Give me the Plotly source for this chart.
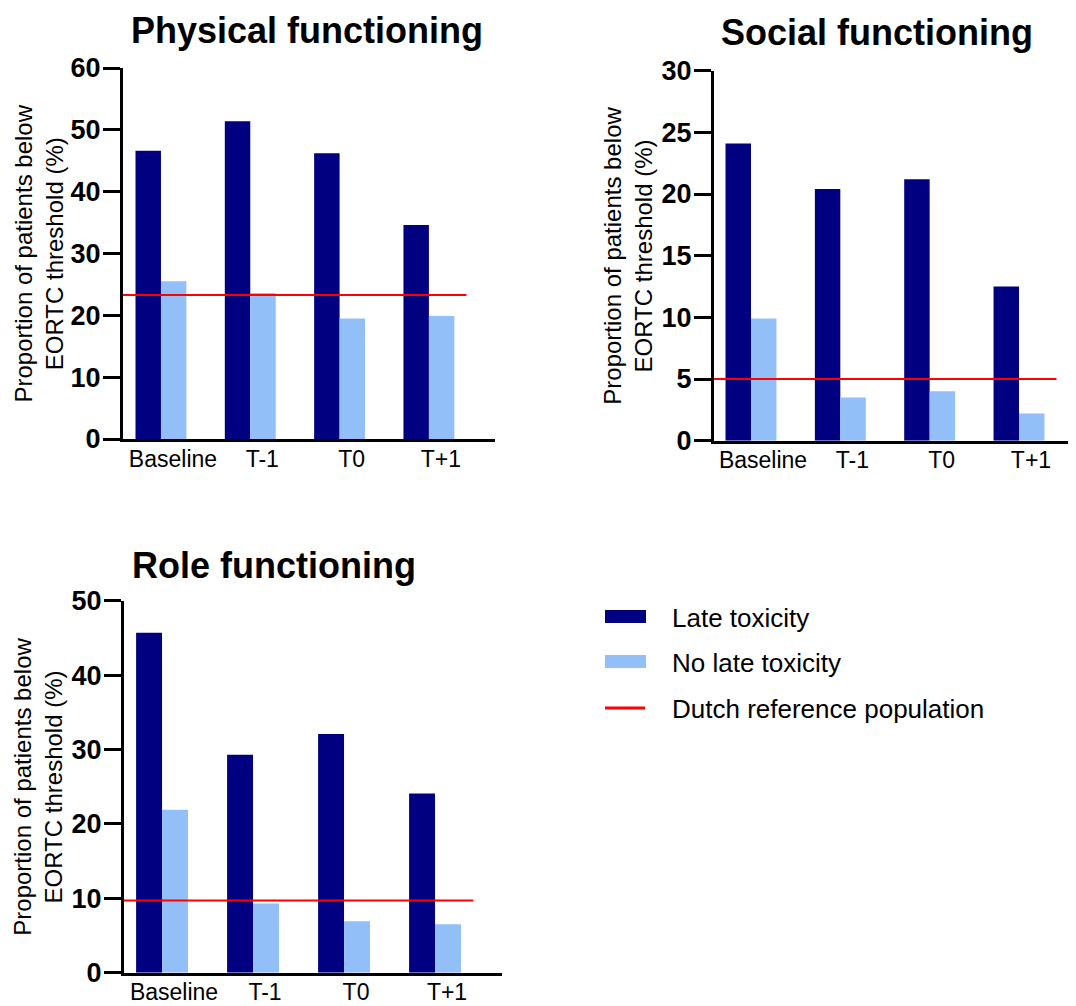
import plotly.graph_objects as go

# ---------------- data ----------------
categories = ["Baseline", "T-1", "T0", "T+1"]

physical_late = [46.6, 51.4, 46.2, 34.6]
physical_no_late = [25.5, 23.6, 19.5, 19.9]
physical_ref = 23.3

social_late = [24.1, 20.4, 21.2, 12.5]
social_no_late = [9.9, 3.5, 4.0, 2.2]
social_ref = 5.0

role_late = [45.7, 29.3, 32.1, 24.1]
role_no_late = [21.9, 9.3, 6.9, 6.5]
role_ref = 9.7

titles = ["Physical functioning", "Social functioning", "Role functioning"]
series_names = ["Late toxicity", "No late toxicity", "Dutch reference population"]
y_title = "Proportion of patients below<br>EORTC threshold (%)"

# ---------------- style ----------------
PAGE_W, PAGE_H = 1076, 1006
OFF = 8  # default body margin of the html page
W, H = PAGE_W - OFF, PAGE_H - OFF
DARK = "#000080"
LIGHT = "#92BFF8"
RED = "#FF0000"
FONT = "Liberation Sans, Arial, sans-serif"


def fx(px):
    return (px - OFF) / W


def fy(px):
    return 1 - (px - OFF) / H


panels = [
    dict(xd=(123, 495), yd=(68, 439), xr=(-0.425, 3.74), ymax=60, dtick=10,
         tx=307, ty=31, ytx=38,
         late=physical_late, nolate=physical_no_late, ref=physical_ref, title=titles[0]),
    dict(xd=(714, 1076), yd=(70.7, 440.7), xr=(-0.414, 3.638), ymax=30, dtick=5,
         tx=877, ty=32, ytx=628,
         late=social_late, nolate=social_no_late, ref=social_ref, title=titles[1]),
    dict(xd=(124, 502), yd=(600.7, 972.7), xr=(-0.418, 3.736), ymax=50, dtick=10,
         tx=274, ty=565, ytx=38,
         late=role_late, nolate=role_no_late, ref=role_ref, title=titles[2]),
]
REF_X_END = 3.42

fig = go.Figure()
annotations = []
shapes = []
xpos = list(range(len(categories)))

for i, p in enumerate(panels, start=1):
    xa = "x" if i == 1 else f"x{i}"
    ya = "y" if i == 1 else f"y{i}"
    fig.add_trace(go.Bar(x=xpos, y=p["late"], name=series_names[0], marker_color=DARK,
                         marker_line_width=0, xaxis=xa, yaxis=ya, offsetgroup="a",
                         showlegend=False))
    fig.add_trace(go.Bar(x=xpos, y=p["nolate"], name=series_names[1], marker_color=LIGHT,
                         marker_line_width=0, xaxis=xa, yaxis=ya, offsetgroup="b",
                         showlegend=False))
    fig.add_trace(go.Scatter(x=[p["xr"][0], REF_X_END], y=[p["ref"], p["ref"]],
                             mode="lines", line=dict(color=RED, width=2),
                             name=series_names[2], xaxis=xa, yaxis=ya, showlegend=False))

    xkey = "xaxis" if i == 1 else f"xaxis{i}"
    ykey = "yaxis" if i == 1 else f"yaxis{i}"
    fig.update_layout({
        xkey: dict(domain=[max(0, fx(p["xd"][0])), min(1, fx(p["xd"][1]))], range=list(p["xr"]),
                   anchor=ya, tickvals=xpos, ticktext=categories, ticks="",
                   showline=True, linecolor="black", linewidth=3, showgrid=False,
                   zeroline=False, ticklabelshift=12, ticklabelstandoff=-3, automargin=False,
                   tickfont=dict(family=FONT, size=23, color="black")),
        ykey: dict(domain=[fy(p["yd"][1]), fy(p["yd"][0])], range=[0, p["ymax"]],
                   anchor=xa, dtick=p["dtick"], tick0=0, ticks="outside", ticklen=17,
                   tickwidth=3, tickcolor="black", showline=True, linecolor="black",
                   linewidth=3, showgrid=False, zeroline=False, automargin=False,
                   ticklabelstandoff=-3,
                   tickfont=dict(family=FONT, size=27, color="black", weight="bold")),
    })

    annotations.append(dict(text=p["title"], x=fx(p["tx"]), y=fy(p["ty"]), xref="paper",
                            yref="paper", xanchor="center", yanchor="middle", showarrow=False,
                            font=dict(family=FONT, size=36, color="black", weight="bold")))
    annotations.append(dict(text=y_title, x=fx(p["ytx"]), y=fy((p["yd"][0] + p["yd"][1]) / 2),
                            xref="paper", yref="paper", xanchor="center", yanchor="middle",
                            textangle=-90, showarrow=False,
                            font=dict(family=FONT, size=24, color="black")))

# ---------------- legend (drawn manually) ----------------
legend_rows = [(series_names[0], "bar", DARK, 616.5),
               (series_names[1], "bar", LIGHT, 661.5),
               (series_names[2], "line", RED, 708)]
for name, kind, color, ypx in legend_rows:
    if kind == "bar":
        shapes.append(dict(type="rect", xref="paper", yref="paper", x0=fx(605), x1=fx(646),
                           y0=fy(ypx + 6.5), y1=fy(ypx - 6.5), fillcolor=color,
                           line=dict(width=0)))
    else:
        shapes.append(dict(type="line", xref="paper", yref="paper", x0=fx(605), x1=fx(645),
                           y0=fy(ypx), y1=fy(ypx), line=dict(color=color, width=3)))
    annotations.append(dict(text=name, x=fx(670), y=fy(ypx + 1), xref="paper", yref="paper",
                            xanchor="left", yanchor="middle", showarrow=False,
                            font=dict(family=FONT, size=26, color="black")))

fig.update_layout(
    template="none",
    width=W, height=H,
    margin=dict(l=0, r=0, t=0, b=0, autoexpand=False),
    paper_bgcolor="white", plot_bgcolor="white",
    barmode="group", bargap=0.43, bargroupgap=0,
    annotations=annotations, shapes=shapes,
    showlegend=False,
)

fig.write_html("out.html")
